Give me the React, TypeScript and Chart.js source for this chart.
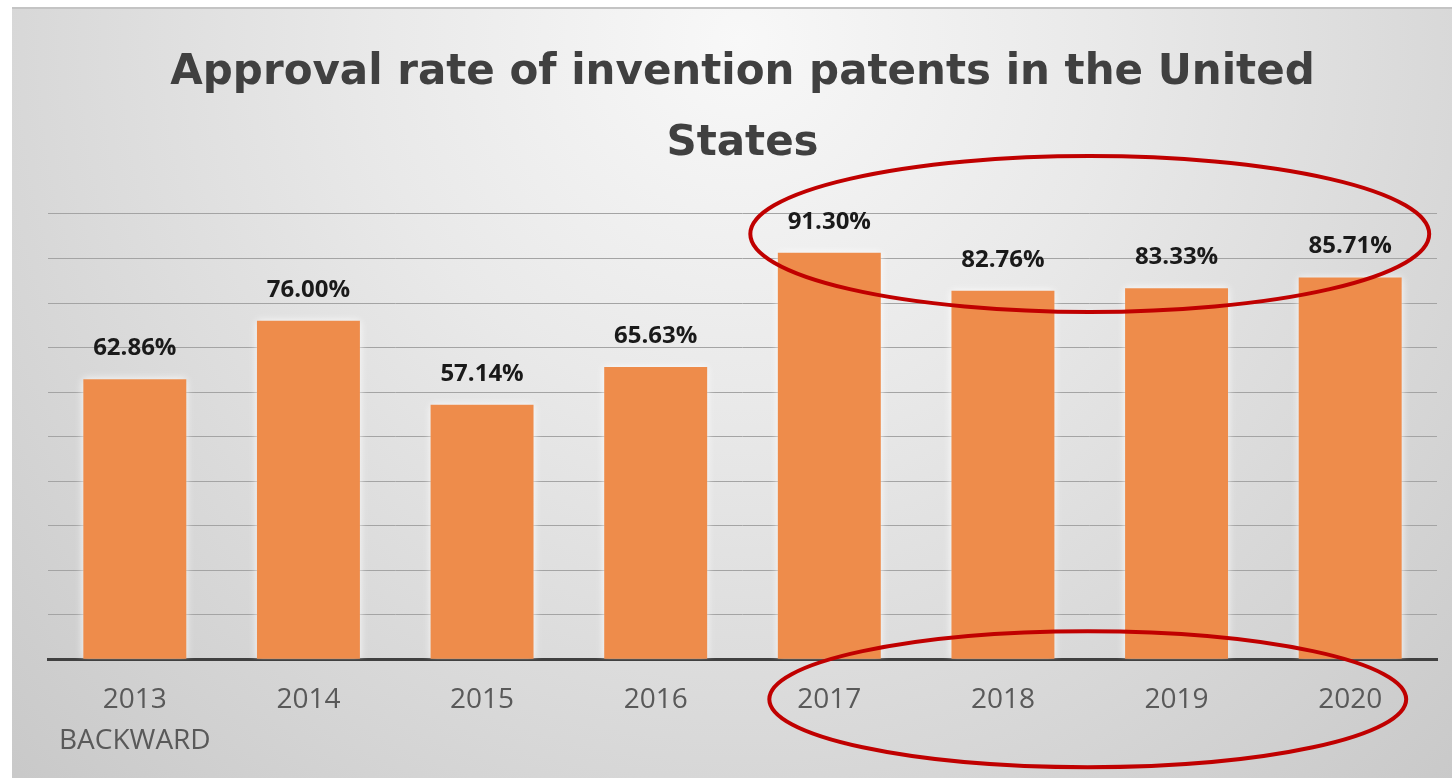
import React, { useEffect, useRef } from "react";
import { Chart, registerables } from "chart.js";

Chart.register(...registerables);

const categories: (string | string[])[] = [
  ["2013", "BACKWARD"],
  "2014",
  "2015",
  "2016",
  "2017",
  "2018",
  "2019",
  "2020",
];
const approvalRates = [62.86, 76.0, 57.14, 65.63, 91.3, 82.76, 83.33, 85.71];
const titleLines = ["Approval rate of invention patents in the United", "States"];

const backgroundPlugin = {
  id: "bgPlugin",
  beforeDraw(chart: any) {
    const { ctx, width, height } = chart;
    ctx.save();
    ctx.fillStyle = "#ffffff";
    ctx.fillRect(0, 0, width, height);
    const g = ctx.createRadialGradient(740, 40, 0, 740, 40, 1050);
    g.addColorStop(0, "#f8f8f8");
    g.addColorStop(0.35, "#e9e9e9");
    g.addColorStop(1, "#c8c8c8");
    ctx.fillStyle = g;
    ctx.fillRect(12, 8, width - 12, height - 8);
    ctx.fillStyle = "#c4c4c4";
    ctx.fillRect(12, 7, width - 12, 2);
    ctx.restore();
  },
  beforeDatasetsDraw(chart: any) {
    const ctx = chart.ctx;
    ctx.save();
    ctx.shadowColor = "rgba(255,255,255,0.9)";
    ctx.shadowBlur = 8;
  },
  afterDatasetsDraw(chart: any) {
    const ctx = chart.ctx;
    ctx.restore();
    const meta = chart.getDatasetMeta(0);
    ctx.save();
    ctx.font = "bold 24px 'Open Sans'";
    ctx.fillStyle = "#1a1a1a";
    ctx.textAlign = "center";
    ctx.textBaseline = "middle";
    meta.data.forEach((bar: any, i: number) => {
      ctx.fillText(approvalRates[i].toFixed(2) + "%", bar.x, bar.y - 31);
    });
    ctx.restore();
  },
  afterDraw(chart: any) {
    const { ctx, scales, chartArea } = chart;
    const xs = scales.x;
    const ys = scales.y;
    const x1 = xs.getPixelForValue(4);
    const x2 = xs.getPixelForValue(7);
    const cx = (x1 + x2) / 2;
    const half = (x2 - x1) / 2;
    ctx.save();
    ctx.strokeStyle = "#c00000";
    ctx.lineWidth = 4;
    ctx.beginPath();
    ctx.ellipse(cx, ys.getPixelForValue(95.5), half + 79, 78, 0, 0, Math.PI * 2);
    ctx.stroke();
    ctx.beginPath();
    ctx.ellipse(cx - 2, chartArea.bottom + 40, half + 58, 68, 0, 0, Math.PI * 2);
    ctx.stroke();
    ctx.restore();
  },
};

export default function App() {
  const ref = useRef<HTMLCanvasElement | null>(null);
  useEffect(() => {
    document.body.style.margin = "0";
    const chart = new Chart(ref.current!, {
      type: "bar",
      data: {
        labels: categories,
        datasets: [
          {
            data: approvalRates,
            backgroundColor: "#ee8c4b",
            borderWidth: 0,
            categoryPercentage: 1,
            barPercentage: 0.593,
          },
        ],
      },
      options: {
        animation: false,
        responsive: false,
        layout: { padding: { left: 48, right: 15, top: 0, bottom: -3 } },
        plugins: {
          legend: { display: false },
          tooltip: { enabled: false },
          title: {
            display: true,
            text: titleLines,
            color: "#404040",
            font: { family: "'DejaVu Sans'", size: 42, weight: "bold", lineHeight: 1.69 },
            padding: { top: 38, bottom: 34 },
          },
        },
        scales: {
          x: {
            grid: { display: false, drawTicks: false },
            border: { display: true, color: "#404040", width: 3 },
            ticks: {
              color: "#595959",
              font: { family: "'Open Sans'", size: 28, lineHeight: 1.46 },
              padding: 20,
              maxRotation: 0,
              autoSkip: false,
            },
          },
          y: {
            min: 0,
            max: 100,
            ticks: { display: false, stepSize: 10 },
            border: { display: false },
            grid: { color: "#a4a4a4", lineWidth: 1, drawTicks: false },
          },
        },
      },
      plugins: [backgroundPlugin],
    });
    return () => chart.destroy();
  }, []);
  return (
    <div style={{ width: 1452, height: 778 }}>
      <canvas ref={ref} width={1452} height={778} style={{ display: "block" }} />
    </div>
  );
}
